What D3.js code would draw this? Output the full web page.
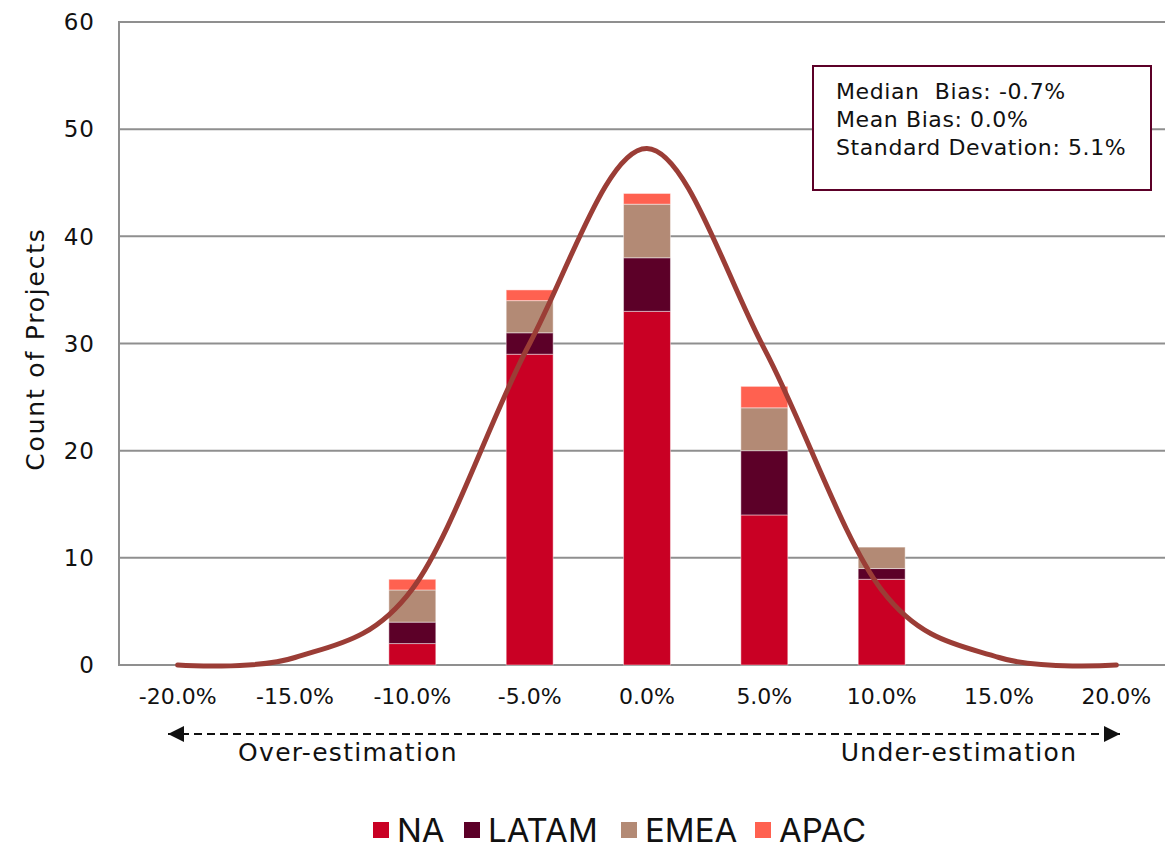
<!DOCTYPE html>
<html>
<head>
<meta charset="utf-8">
<script src="https://cdn.jsdelivr.net/npm/d3@7"></script>
<style>
  html, body { margin: 0; padding: 0; background: #fff; }
  svg { display: block; font-family: "DejaVu Sans", "Liberation Sans", sans-serif; }
</style>
</head>
<body>
<svg id="chart" width="1165" height="844"></svg>
<script>
// Forecast error buckets (x axis)
const categories = ["-20.0%", "-15.0%", "-10.0%", "-5.0%", "0.0%", "5.0%", "10.0%", "15.0%", "20.0%"];

// Project counts per region in each bucket
const seriesNames = ["NA", "LATAM", "EMEA", "APAC"];
const naValues    = [0, 0, 2, 29, 33, 14, 8, 0, 0];
const latamValues = [0, 0, 2, 2, 5, 6, 1, 0, 0];
const emeaValues  = [0, 0, 3, 3, 5, 4, 2, 0, 0];
const apacValues  = [0, 0, 1, 1, 1, 2, 0, 0, 0];

// Fitted distribution curve, one value per bucket
const curveValues = [0, 0.7, 7.1, 30.0, 48.2, 29.5, 7.0, 0.7, 0];

const yTicks = [0, 10, 20, 30, 40, 50, 60];
const statLines = ["Median  Bias: -0.7%", "Mean Bias: 0.0%", "Standard Devation: 5.1%"];

const colors = { NA: "#c90024", LATAM: "#5c0028", EMEA: "#b38a75", APAC: "#ff6150" };

const svg = d3.select("#chart");

const x = d3.scaleBand()
  .domain(categories)
  .range([119, 1175])
  .paddingInner(0.6)
  .paddingOuter(0.3);

const y = d3.scaleLinear().domain([0, 60]).range([665, 22]);

// Horizontal gridlines
svg.append("g")
  .selectAll("line")
  .data(yTicks.filter(d => d > 0))
  .join("line")
  .attr("x1", 119).attr("x2", 1165)
  .attr("y1", d => y(d)).attr("y2", d => y(d))
  .attr("stroke", "#8f8f8f")
  .attr("stroke-width", 2);

// Y axis line and baseline
svg.append("line")
  .attr("x1", 119).attr("x2", 119)
  .attr("y1", y(60) - 1).attr("y2", y(0))
  .attr("stroke", "#8f8f8f").attr("stroke-width", 2);
svg.append("line")
  .attr("x1", 118).attr("x2", 1165)
  .attr("y1", y(0)).attr("y2", y(0))
  .attr("stroke", "#8f8f8f").attr("stroke-width", 2);

// Y tick labels
svg.append("g")
  .selectAll("text")
  .data(yTicks)
  .join("text")
  .attr("x", 95)
  .attr("y", d => y(d))
  .attr("dy", "0.36em")
  .attr("text-anchor", "end")
  .attr("font-size", 23)
  .attr("letter-spacing", 1)
  .attr("fill", "#111")
  .text(d => d);

// X tick labels
svg.append("g")
  .selectAll("text")
  .data(categories)
  .join("text")
  .attr("x", d => x(d) + x.bandwidth() / 2)
  .attr("y", 696)
  .attr("dy", "0.36em")
  .attr("text-anchor", "middle")
  .attr("font-size", 22)
  .attr("fill", "#111")
  .text(d => d);

// Y axis title
svg.append("text")
  .attr("transform", "translate(44," + 349 + ") rotate(-90)")
  .attr("text-anchor", "middle")
  .attr("font-size", 25)
  .attr("letter-spacing", 1.8)
  .attr("fill", "#111")
  .text("Count of Projects");

// Stacked bars
const rows = categories.map((c, i) => ({
  cat: c,
  NA: naValues[i], LATAM: latamValues[i], EMEA: emeaValues[i], APAC: apacValues[i]
}));
const stacked = d3.stack().keys(seriesNames)(rows);

svg.append("g")
  .selectAll("g")
  .data(stacked)
  .join("g")
  .attr("fill", d => colors[d.key])
  .selectAll("rect")
  .data(d => d.filter(s => s[1] - s[0] > 0))
  .join("rect")
  .attr("x", d => x(d.data.cat))
  .attr("width", x.bandwidth())
  .attr("y", d => y(d[1]))
  .attr("height", d => y(d[0]) - y(d[1]))
  .attr("stroke", "rgba(255,255,255,0.45)")
  .attr("stroke-width", 1);

// Distribution curve
const line = d3.line()
  .x((d, i) => x(categories[i]) + x.bandwidth() / 2)
  .y(d => y(d))
  .curve(d3.curveCardinal.tension(0));

svg.append("path")
  .datum(curveValues)
  .attr("d", line)
  .attr("fill", "none")
  .attr("stroke", "#9b3d36")
  .attr("stroke-width", 5)
  .attr("stroke-linecap", "round")
  .attr("stroke-linejoin", "round");

// Summary statistics box
const box = svg.append("g");
box.append("rect")
  .attr("x", 813).attr("y", 66)
  .attr("width", 338).attr("height", 124)
  .attr("fill", "#fff")
  .attr("stroke", "#5c0028")
  .attr("stroke-width", 2);
box.selectAll("text")
  .data(statLines)
  .join("text")
  .attr("x", 836)
  .attr("y", (d, i) => 91 + i * 28)
  .attr("dy", "0.36em")
  .attr("font-size", 22)
  .attr("letter-spacing", 0.6)
  .attr("fill", "#111")
  .attr("xml:space", "preserve")
  .style("white-space", "pre")
  .text(d => d);

// Over / under estimation arrow
const defs = svg.append("defs");
defs.append("marker")
  .attr("id", "tri")
  .attr("viewBox", "0 0 10 10")
  .attr("refX", 10).attr("refY", 5)
  .attr("markerWidth", 8).attr("markerHeight", 8)
  .attr("markerUnits", "strokeWidth")
  .attr("orient", "auto-start-reverse")
  .append("path")
  .attr("d", "M0,0 L10,5 L0,10 Z")
  .attr("fill", "#111");

svg.append("line")
  .attr("x1", 168).attr("x2", 1120)
  .attr("y1", 734).attr("y2", 734)
  .attr("stroke", "#111")
  .attr("stroke-width", 2)
  .attr("stroke-dasharray", "8,5")
  .attr("marker-start", "url(#tri)")
  .attr("marker-end", "url(#tri)");

svg.append("text")
  .attr("x", 348).attr("y", 752).attr("dy", "0.36em")
  .attr("text-anchor", "middle")
  .attr("font-size", 25)
  .attr("letter-spacing", 1.3)
  .attr("fill", "#111")
  .text("Over-estimation");
svg.append("text")
  .attr("x", 959).attr("y", 752).attr("dy", "0.36em")
  .attr("text-anchor", "middle")
  .attr("font-size", 25)
  .attr("letter-spacing", 1.3)
  .attr("fill", "#111")
  .text("Under-estimation");

// Legend
const legendX = [373, 464, 621, 755];
const legend = svg.append("g")
  .selectAll("g")
  .data(seriesNames)
  .join("g")
  .attr("transform", (d, i) => "translate(" + legendX[i] + ",822)");
legend.append("rect")
  .attr("width", 16).attr("height", 16)
  .attr("fill", d => colors[d]);
legend.append("text")
  .attr("x", 24).attr("y", 8)
  .attr("dy", "0.36em")
  .attr("font-size", 33)
  .attr("font-family", "Inter, 'Liberation Sans', sans-serif")
  .attr("fill", "#111")
  .text(d => d);
</script>
</body>
</html>
